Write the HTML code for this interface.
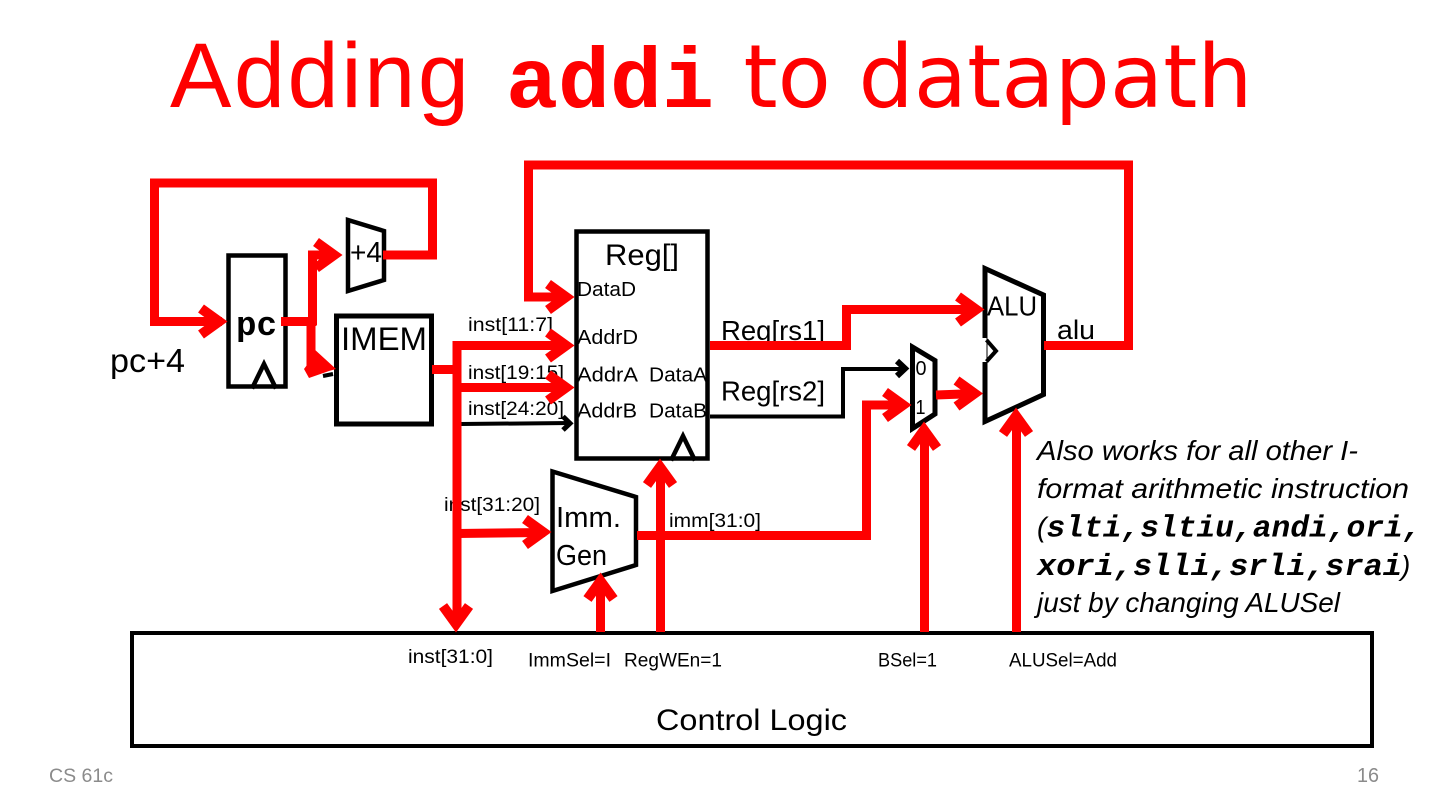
<!DOCTYPE html>
<html>
<head>
<meta charset="utf-8">
<style>
html,body{margin:0;padding:0;background:#fff;width:1440px;height:811px;overflow:hidden}
svg{display:block}
text{font-family:"Liberation Sans",sans-serif;fill:#000}
.m{font-family:"Liberation Mono",monospace;font-weight:bold}
.r{fill:none;stroke:#fe0000;stroke-width:9;stroke-linejoin:miter;stroke-miterlimit:10}
.h{fill:none;stroke:#fe0000;stroke-width:10;stroke-linejoin:miter;stroke-miterlimit:10}
.k{fill:none;stroke:#000;stroke-width:4.5;stroke-linejoin:miter;stroke-miterlimit:10}
.b{fill:none;stroke:#000;stroke-width:4;stroke-linejoin:miter;stroke-miterlimit:10}
</style>
</head>
<body>
<svg width="1440" height="811" viewBox="0 0 1440 811" xmlns="http://www.w3.org/2000/svg">
<rect width="1440" height="811" fill="#fff"/>

<!-- title -->
<text x="170" y="107" font-size="92" textLength="299" lengthAdjust="spacing" style="fill:#fe0000">Adding</text>
<text x="506" y="107" font-size="85" textLength="208" lengthAdjust="spacingAndGlyphs" class="m" style="fill:#fe0000">addi</text>
<text x="743.5" y="107" font-size="87.5" textLength="509" lengthAdjust="spacingAndGlyphs" style="font-family:'DejaVu Sans',sans-serif;fill:#fe0000">to datapath</text>

<!-- blocks -->
<rect class="k" x="228.5" y="255.5" width="57" height="131"/>
<polyline class="k" points="252,388.5 264,364 276,388.5"/>
<polygon class="k" points="348,220 384,231 384,280 348,291"/>
<rect class="k" x="336.5" y="316" width="95" height="108" style="stroke-width:5"/>
<rect class="k" x="576.5" y="231.5" width="131" height="227"/>
<polyline class="k" points="671,460.5 683,436 695,460.5"/>
<polygon class="k" style="stroke-width:5" points="985,268.5 1043.5,295 1043.5,394.5 985,421.5"/>
<rect x="981" y="338" width="5.5" height="24" fill="#fff"/>
<polyline class="b" points="986.5,340 996,351 986.5,361.5"/>
<polygon class="k" style="stroke-width:5" points="912.5,347 935,360.5 935,414 912.5,428.5"/>
<polygon class="k" points="552.5,471.5 636,497 636,565 552.5,591"/>
<rect class="b" x="132" y="633" width="1240" height="113"/>

<!-- labels -->
<text class="m" x="236" y="335" font-size="34" textLength="41" lengthAdjust="spacingAndGlyphs">pc</text>
<text x="350" y="262" font-size="29" textLength="32" lengthAdjust="spacingAndGlyphs">+4</text>
<text x="341" y="350" font-size="32" textLength="86" lengthAdjust="spacingAndGlyphs">IMEM</text>
<text x="110" y="372" font-size="33" textLength="75" lengthAdjust="spacingAndGlyphs">pc+4</text>
<text x="605" y="265" font-size="30" textLength="74" lengthAdjust="spacingAndGlyphs">Reg[]</text>
<text x="577" y="296" font-size="20" textLength="59" lengthAdjust="spacingAndGlyphs">DataD</text>
<text x="577" y="344" font-size="20" textLength="61" lengthAdjust="spacingAndGlyphs">AddrD</text>
<text x="577" y="381.5" font-size="20" textLength="61" lengthAdjust="spacingAndGlyphs">AddrA</text>
<text x="649" y="381.5" font-size="20" textLength="58" lengthAdjust="spacingAndGlyphs">DataA</text>
<text x="577" y="417.5" font-size="20" textLength="60" lengthAdjust="spacingAndGlyphs">AddrB</text>
<text x="649" y="417.5" font-size="20" textLength="58" lengthAdjust="spacingAndGlyphs">DataB</text>
<text x="721" y="340" font-size="28" textLength="104" lengthAdjust="spacingAndGlyphs">Reg[rs1]</text>
<text x="721" y="400.5" font-size="28" textLength="104" lengthAdjust="spacingAndGlyphs">Reg[rs2]</text>
<text x="987" y="315.5" font-size="28" textLength="50" lengthAdjust="spacingAndGlyphs">ALU</text>
<text x="1057" y="339" font-size="27" textLength="38" lengthAdjust="spacingAndGlyphs">alu</text>
<text x="915.5" y="375" font-size="20" textLength="11" lengthAdjust="spacingAndGlyphs">0</text>
<text x="915.5" y="414" font-size="20" textLength="10" lengthAdjust="spacingAndGlyphs">1</text>
<text x="468" y="331" font-size="19" textLength="85" lengthAdjust="spacingAndGlyphs">inst[11:7]</text>
<text x="468" y="379" font-size="19" textLength="96" lengthAdjust="spacingAndGlyphs">inst[19:15]</text>
<text x="468" y="415" font-size="19" textLength="96" lengthAdjust="spacingAndGlyphs">inst[24:20]</text>
<text x="444" y="511" font-size="19" textLength="96" lengthAdjust="spacingAndGlyphs">inst[31:20]</text>
<text x="669" y="527" font-size="19" textLength="92" lengthAdjust="spacingAndGlyphs">imm[31:0]</text>
<text x="556" y="527" font-size="28.5" textLength="65" lengthAdjust="spacingAndGlyphs">Imm.</text>
<text x="556" y="565" font-size="28.5" textLength="51" lengthAdjust="spacingAndGlyphs">Gen</text>
<text x="408" y="663" font-size="19" textLength="85" lengthAdjust="spacingAndGlyphs">inst[31:0]</text>
<text x="528" y="666.5" font-size="19" textLength="83" lengthAdjust="spacingAndGlyphs">ImmSel=I</text>
<text x="624" y="666.5" font-size="19" textLength="98" lengthAdjust="spacingAndGlyphs">RegWEn=1</text>
<text x="878" y="666.5" font-size="19" textLength="59" lengthAdjust="spacingAndGlyphs">BSel=1</text>
<text x="1009" y="666.5" font-size="19" textLength="108" lengthAdjust="spacingAndGlyphs">ALUSel=Add</text>
<text x="656" y="730" font-size="30" textLength="191" lengthAdjust="spacingAndGlyphs">Control Logic</text>

<!-- paragraph -->
<text x="1037" y="460" font-size="28" font-style="italic" textLength="321" lengthAdjust="spacingAndGlyphs">Also works for all other I-</text>
<text x="1037" y="498" font-size="28" font-style="italic" textLength="372" lengthAdjust="spacingAndGlyphs">format arithmetic instruction</text>
<text x="1037" y="536.5" font-size="28" font-style="italic">(</text>
<text class="m" x="1046.5" y="536.5" font-size="31" font-style="italic" textLength="375" lengthAdjust="spacingAndGlyphs">slti,sltiu,andi,ori,</text>
<text class="m" x="1037" y="575" font-size="31" font-style="italic" textLength="365" lengthAdjust="spacingAndGlyphs">xori,slli,srli,srai</text>
<text x="1401" y="575" font-size="28" font-style="italic">)</text>
<text x="1037" y="612" font-size="28" font-style="italic" textLength="303" lengthAdjust="spacingAndGlyphs">just by changing ALUSel</text>

<!-- footer -->
<text x="49" y="782" font-size="19" textLength="64" lengthAdjust="spacingAndGlyphs" style="fill:#8b8b8b">CS 61c</text>
<text x="1357" y="782" font-size="20" textLength="22" lengthAdjust="spacingAndGlyphs" style="fill:#8b8b8b">16</text>

<!-- black wires -->
<polyline class="b" points="461,424 570,423"/>
<polyline class="b" style="stroke-width:5" points="563,416.5 570,423.3 563,430"/>
<polyline class="b" points="710,416.5 843,416.5 843,369 905,369"/>
<polyline class="b" style="stroke-width:6" points="897,361 905,368.5 897,376"/>
<polyline class="b" points="323,376 333,374"/>

<!-- red wires -->
<polyline class="r" points="383,255 432.5,255 432.5,183 154.5,183 154.5,321.5 222,321.5"/>
<polyline class="h" points="201,308.5 219,321.5 201,334.5"/>
<polyline class="r" points="281,321.5 316.5,321.5"/>
<polyline class="r" points="312.5,325 312.5,255 330,255"/>
<polyline class="h" points="316,242 334,255 316,268"/>
<polyline class="r" points="311,321 311,367"/>
<polygon points="313,348 336,369 329,371 309,378 304,369 307,365" fill="#fe0000"/>

<polyline class="r" points="432,369.5 457,369.5"/>
<polyline class="r" points="567,345.5 457,345.5 457,620"/>
<polyline class="h" points="548,332.5 566,345.5 548,358.5"/>
<polyline class="r" points="457,387.5 567,387.5"/>
<polyline class="h" points="548,374.5 566,387.5 548,400.5"/>
<polyline class="h" points="443,606 456,624 469,606"/>
<polyline class="r" points="457,533.5 545,532.5"/>
<polyline class="h" points="525,519 543,532 525,545"/>

<polyline class="r" points="1044,345.5 1128.5,345.5 1128.5,165 528.5,165 528.5,297 567,297"/>
<polyline class="h" points="548,284 566,297 548,310"/>

<polyline class="r" points="710,345.5 846.5,345.5 846.5,309.5 978,309.5"/>
<polyline class="h" points="958,296.5 976,309.5 958,322.5"/>

<polyline class="r" points="637,535.5 866.5,535.5 866.5,405 905,405"/>
<polyline class="h" points="885,392 903,405 885,418"/>

<polyline class="r" points="936,395 976,393.5"/>
<polyline class="h" points="956.5,380.5 974.5,393.5 956.5,406.5"/>

<polyline class="r" points="600.5,632 600.5,582"/>
<polyline class="h" points="587.5,599 600.5,581 613.5,599"/>
<polyline class="r" points="660.5,632 660.5,470"/>
<polyline class="h" points="647,485 660,467 673,485"/>
<polyline class="r" points="924.5,632 924.5,432"/>
<polyline class="h" points="911,448 924,430 937,448"/>
<polyline class="r" points="1016.5,632 1016.5,420"/>
<polyline class="h" points="1003,434 1016,416 1029,434"/>
</svg>
</body>
</html>
